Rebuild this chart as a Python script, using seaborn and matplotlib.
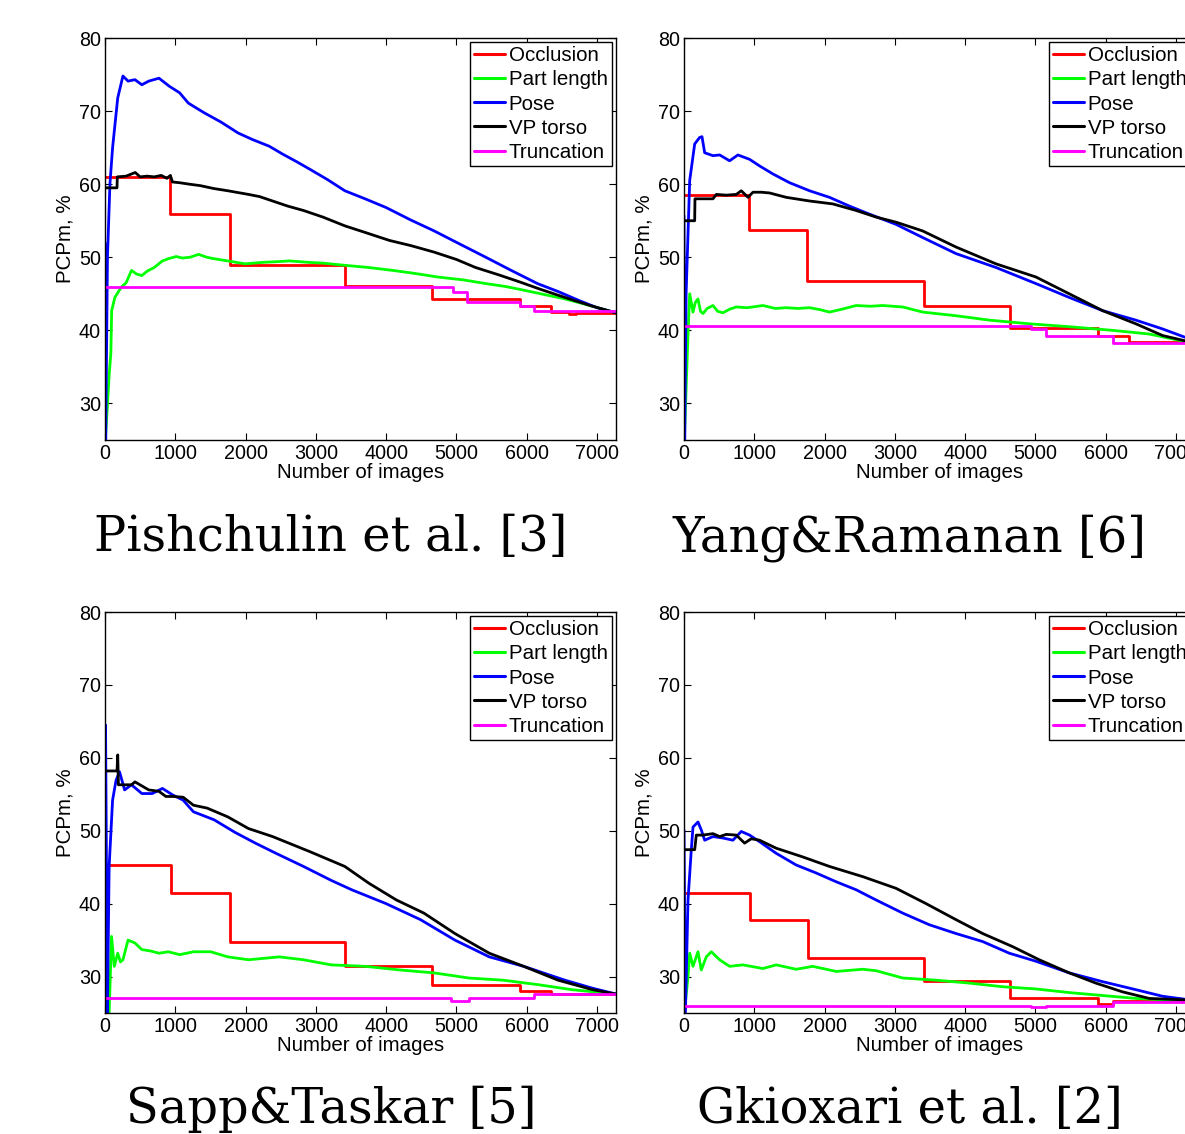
import numpy as np
import pandas as pd
import matplotlib
matplotlib.use("Agg")
import matplotlib.pyplot as plt
import seaborn as sns

# ---------------- data ----------------
series_names = ["Occlusion", "Part length", "Pose", "VP torso", "Truncation"]
series_colors = ["#ff0000", "#00ff00", "#0000ff", "#000000", "#ff00ff"]
titles = ["Pishchulin et al. [3]", "Yang&Ramanan [6]", "Sapp&Taskar [5]", "Gkioxari et al. [2]"]
x_ticks = [0, 1000, 2000, 3000, 4000, 5000, 6000, 7000]
y_ticks = [30, 40, 50, 60, 70, 80]

# Panel 1: Pishchulin et al.
p1_occ_edges = [0, 930, 1772, 3412, 4650, 5898, 6349, 6600, 6700, 7270]
p1_occ_vals = [61.0, 55.9, 49.0, 46.1, 44.3, 43.3, 42.5, 42.2, 42.4]
p1_trunc_edges = [0, 4953, 5149, 5908, 6104, 7270]
p1_trunc_vals = [45.9, 45.3, 43.9, 43.4, 42.6]
p1_pose_x = [0, 10, 35, 70, 108, 181, 255, 328, 426, 524, 622, 768, 915, 1062, 1185, 1405, 1650,
             1894, 2100, 2335, 2530, 2722, 2922, 3170, 3412, 3700, 4000, 4350, 4684, 5050, 5418,
             5780, 6153, 6450, 6740, 7000, 7270]
p1_pose_y = [52, 25, 50, 60, 65, 71.8, 74.8, 74.1, 74.3, 73.6, 74.1, 74.5, 73.4, 72.5, 71.1, 69.8, 68.5,
             67.0, 66.1, 65.2, 64.1, 63.1, 62.0, 60.6, 59.1, 58.0, 56.8, 55.1, 53.6, 51.8, 50.0,
             48.2, 46.4, 45.3, 44.1, 43.1, 42.4]
p1_vp_x = [0, 171, 175, 300, 430, 500, 600, 700, 800, 880, 930, 960, 1062, 1200, 1356, 1550, 1747,
           2041, 2200, 2384, 2600, 2824, 3100, 3412, 3700, 4048, 4350, 4684, 5000, 5272, 5600, 5908,
           6200, 6544, 6900, 7270]
p1_vp_y = [59.5, 59.5, 61.0, 61.1, 61.6, 61.0, 61.1, 61.0, 61.2, 60.8, 61.2, 60.3, 60.2, 60.0, 59.8,
           59.4, 59.1, 58.6, 58.3, 57.7, 57.0, 56.4, 55.5, 54.3, 53.4, 52.3, 51.6, 50.7, 49.7, 48.6,
           47.6, 46.6, 45.6, 44.5, 43.4, 42.4]
p1_pl_x = [5, 60, 83, 95, 140, 230, 300, 377, 450, 524, 600, 700, 817, 900, 1013, 1100, 1209, 1331,
           1450, 1552, 1747, 1992, 2240, 2450, 2628, 2900, 3100, 3412, 3750, 4097, 4400, 4733, 5100,
           5418, 5700, 5957, 6250, 6544, 6900, 7270]
p1_pl_y = [25, 34, 36.8, 42.7, 44.5, 45.9, 46.5, 48.2, 47.7, 47.5, 48.1, 48.6, 49.5, 49.8, 50.1, 49.9,
           50.0, 50.4, 50.0, 49.8, 49.5, 49.1, 49.3, 49.4, 49.5, 49.3, 49.2, 48.9, 48.6, 48.2, 47.8,
           47.3, 46.9, 46.4, 46.0, 45.5, 44.9, 44.3, 43.4, 42.4]

# Panel 2: Yang&Ramanan
p2_occ_edges = [0, 924, 1753, 3420, 4638, 5883, 6333, 7270]
p2_occ_vals = [58.5, 53.7, 46.8, 43.4, 40.3, 39.2, 38.4]
p2_trunc_edges = [0, 4936, 5150, 6097, 7270]
p2_trunc_vals = [40.6, 40.2, 39.2, 38.3]
p2_pose_x = [0, 10, 30, 81, 152, 223, 256, 294, 412, 507, 649, 767, 933, 1075, 1265, 1502, 1786,
             2070, 2354, 2639, 3017, 3396, 3870, 4439, 5007, 5481, 5955, 6428, 6807, 7115, 7270]
p2_pose_y = [55.7, 25, 45, 60.5, 65.5, 66.4, 66.5, 64.3, 63.9, 64.0, 63.2, 64.0, 63.4, 62.5, 61.4,
             60.2, 59.1, 58.2, 57.0, 55.9, 54.5, 52.7, 50.5, 48.6, 46.4, 44.5, 42.7, 41.4, 40.2,
             39.1, 38.6]
p2_vp_x = [0, 152, 156, 412, 460, 600, 744, 815, 910, 981, 1100, 1217, 1454, 1786, 2117, 2449, 2733,
           3017, 3396, 3870, 4439, 5007, 5481, 5955, 6428, 6807, 7115, 7270]
p2_vp_y = [55.0, 55.0, 58.0, 58.0, 58.6, 58.5, 58.6, 59.1, 58.2, 58.9, 58.9, 58.8, 58.2, 57.7, 57.3,
           56.4, 55.5, 54.8, 53.6, 51.4, 49.1, 47.3, 45.0, 42.7, 40.9, 39.3, 38.6, 38.4]
p2_pl_x = [5, 57, 81, 128, 160, 199, 235, 270, 330, 412, 480, 554, 650, 744, 900, 1123, 1300, 1454,
           1620, 1786, 1950, 2070, 2250, 2449, 2650, 2828, 3112, 3396, 3870, 4344, 4912, 5481, 6097,
           6618, 7115, 7270]
p2_pl_y = [25, 39.5, 45.0, 42.5, 43.8, 44.3, 42.6, 42.3, 43.0, 43.4, 42.6, 42.4, 42.9, 43.2, 43.1,
           43.4, 43.0, 43.1, 43.0, 43.1, 42.8, 42.5, 42.9, 43.4, 43.3, 43.4, 43.2, 42.5, 42.0, 41.4,
           40.9, 40.5, 40.0, 39.5, 38.5, 38.4]

# Panel 3: Sapp&Taskar
p3_occ_edges = [0, 940, 1772, 3412, 4650, 5898, 6349, 7270]
p3_occ_vals = [45.3, 41.4, 34.8, 31.4, 28.9, 28.0, 27.6]
p3_trunc_edges = [0, 4929, 5174, 6104, 7270]
p3_trunc_vals = [27.0, 26.7, 27.0, 27.6]
p3_pose_x = [0, 8, 34, 59, 108, 157, 206, 279, 377, 524, 671, 817, 964, 1111, 1258, 1552, 1845, 2139,
             2433, 2824, 3216, 3510, 3999, 4489, 4978, 5467, 5957, 6544, 6936, 7270]
p3_pose_y = [25, 64.5, 25, 45.1, 54.2, 56.9, 58.1, 55.6, 56.3, 55.1, 55.1, 55.8, 54.9, 54.2, 52.6,
             51.5, 49.8, 48.3, 46.9, 45.1, 43.2, 41.9, 40.0, 37.8, 35.0, 32.7, 31.4, 29.5, 28.4, 27.6]
p3_vp_x = [0, 171, 181, 191, 377, 426, 622, 768, 866, 964, 1111, 1258, 1454, 1747, 2041, 2384, 2922,
           3412, 3754, 4146, 4537, 4978, 5467, 5957, 6446, 6936, 7270]
p3_vp_y = [58.2, 58.2, 60.4, 56.3, 56.3, 56.7, 55.6, 55.4, 54.7, 54.7, 54.6, 53.5, 53.1, 51.9, 50.3,
           49.2, 47.1, 45.1, 42.8, 40.5, 38.7, 35.9, 33.2, 31.4, 29.5, 28.2, 27.6]
p3_pl_x = [5, 59, 93, 132, 181, 220, 255, 328, 426, 524, 650, 768, 900, 1062, 1258, 1503, 1747, 2041,
           2482, 2824, 3216, 3705, 4195, 4684, 5174, 5663, 6153, 6642, 7270]
p3_pl_y = [25, 25, 35.5, 31.4, 33.2, 32.0, 32.3, 35.0, 34.6, 33.7, 33.5, 33.2, 33.4, 33.0, 33.4, 33.4,
           32.7, 32.3, 32.7, 32.3, 31.6, 31.4, 30.9, 30.5, 29.8, 29.5, 28.9, 28.2, 27.6]

# Panel 4: Gkioxari et al.
p4_occ_edges = [0, 933, 1762, 3420, 4638, 5883, 6100, 7270]
p4_occ_vals = [41.4, 37.8, 32.6, 29.4, 27.1, 26.3, 26.6]
p4_trunc_edges = [0, 4936, 5150, 6097, 7270]
p4_trunc_vals = [26.0, 25.8, 26.0, 26.5]
p4_pose_x = [0, 20, 57, 104, 128, 199, 246, 294, 412, 554, 696, 815, 933, 1075, 1312, 1596, 1881,
             2165, 2449, 2733, 3112, 3491, 3870, 4249, 4628, 5007, 5481, 5955, 6428, 6807, 7270]
p4_pose_y = [50.1, 25, 40.5, 47.4, 50.5, 51.2, 50.1, 48.7, 49.2, 49.0, 48.7, 49.9, 49.4, 48.5, 46.9,
             45.3, 44.2, 43.0, 41.9, 40.5, 38.7, 37.1, 35.9, 34.8, 33.2, 32.1, 30.5, 29.3, 28.2,
             27.3, 26.7]
p4_vp_x = [0, 152, 175, 270, 412, 507, 602, 744, 862, 957, 1075, 1312, 1691, 2070, 2544, 3017, 3444,
           3870, 4249, 4676, 5054, 5481, 5860, 6239, 6618, 7115, 7270]
p4_vp_y = [47.4, 47.4, 49.4, 49.4, 49.6, 49.2, 49.5, 49.4, 48.3, 48.9, 48.7, 47.6, 46.4, 45.1, 43.7,
           42.1, 40.0, 37.8, 35.9, 34.1, 32.3, 30.5, 29.1, 27.9, 27.0, 26.8, 26.7]
p4_pl_x = [5, 57, 81, 128, 199, 246, 317, 388, 507, 649, 838, 1123, 1312, 1596, 1833, 2165, 2544, 2733,
           3112, 3586, 4060, 4533, 5007, 5481, 5955, 6428, 7270]
p4_pl_y = [25, 30.0, 33.2, 31.4, 33.4, 30.9, 32.7, 33.4, 32.3, 31.4, 31.6, 31.1, 31.6, 31.0, 31.4, 30.7,
           31.0, 30.8, 29.8, 29.5, 29.1, 28.6, 28.3, 27.8, 27.4, 27.0, 26.6]

panels = [
    (p1_occ_edges, p1_occ_vals, p1_pl_x, p1_pl_y, p1_pose_x, p1_pose_y, p1_vp_x, p1_vp_y, p1_trunc_edges, p1_trunc_vals),
    (p2_occ_edges, p2_occ_vals, p2_pl_x, p2_pl_y, p2_pose_x, p2_pose_y, p2_vp_x, p2_vp_y, p2_trunc_edges, p2_trunc_vals),
    (p3_occ_edges, p3_occ_vals, p3_pl_x, p3_pl_y, p3_pose_x, p3_pose_y, p3_vp_x, p3_vp_y, p3_trunc_edges, p3_trunc_vals),
    (p4_occ_edges, p4_occ_vals, p4_pl_x, p4_pl_y, p4_pose_x, p4_pose_y, p4_vp_x, p4_vp_y, p4_trunc_edges, p4_trunc_vals),
]


def steps(edges, vals):
    xs, ys = [], []
    for i, v in enumerate(vals):
        xs += [edges[i], edges[i + 1]]
        ys += [v, v]
    return xs, ys


# ---------------- style ----------------
sns.set_theme(style="white")
plt.rcParams["font.family"] = ["Liberation Sans", "DejaVu Sans"]
plt.rcParams.update({
    "xtick.direction": "in", "ytick.direction": "in",
    "xtick.top": True, "ytick.right": True,
    "xtick.bottom": True, "ytick.left": True,
    "xtick.major.size": 5, "ytick.major.size": 5,
    "xtick.major.width": 0.8, "ytick.major.width": 0.8,
    "xtick.color": "black", "ytick.color": "black",
    "xtick.labelcolor": "black", "ytick.labelcolor": "black",
    "text.color": "black", "axes.labelcolor": "black",
    "axes.edgecolor": "black", "axes.linewidth": 1.0,
})

W, H = 1185, 1134
fig = plt.figure(figsize=(W / 100, H / 100), dpi=100)

ax_boxes = [  # left, top, right, bottom in pixels
    (105, 38, 616, 440),
    (684, 38, 1195, 440),
    (105, 612, 616, 1013),
    (684, 612, 1195, 1013),
]
title_pos = [(331, 551), (910, 551), (331, 1123), (910, 1123)]

palette = dict(zip(series_names, series_colors))

for k, (box, pdata) in enumerate(zip(ax_boxes, panels)):
    l, t, r, b = box
    ax = fig.add_axes([l / W, 1 - b / H, (r - l) / W, (b - t) / H])
    occ_e, occ_v, pl_x, pl_y, po_x, po_y, vp_x, vp_y, tr_e, tr_v = pdata
    ox, oy = steps(occ_e, occ_v)
    tx, ty = steps(tr_e, tr_v)
    frames = []
    for name, xs, ys in [("Occlusion", ox, oy), ("Part length", pl_x, pl_y),
                         ("Pose", po_x, po_y), ("VP torso", vp_x, vp_y),
                         ("Truncation", tx, ty)]:
        frames.append(pd.DataFrame({"x": xs, "y": ys, "attr": name}))
    df = pd.concat(frames, ignore_index=True)
    sns.lineplot(data=df, x="x", y="y", hue="attr", hue_order=series_names,
                 palette=palette, estimator=None, sort=False, units="attr",
                 linewidth=2.0, ax=ax, legend=True)
    ax.set_xlim(0, 7270)
    ax.set_ylim(25, 80)
    ax.set_xticks(x_ticks)
    ax.set_yticks(y_ticks)
    ax.tick_params(labelsize=14.2, pad=3)
    ax.set_xlabel("Number of images", fontsize=14.8, labelpad=0)
    ax.set_ylabel("PCPm, %", fontsize=14.8, labelpad=3)
    handles, labels = ax.get_legend_handles_labels()
    leg = ax.legend(handles, labels, loc="upper right", fontsize=14.8, frameon=True,
                    fancybox=False, edgecolor="black", framealpha=1,
                    borderaxespad=0.2, handlelength=1.5, handletextpad=0.2,
                    labelspacing=0.25, borderpad=0.2)
    leg.get_frame().set_linewidth(1.0)
    for ln in leg.get_lines():
        ln.set_linewidth(2.2)
    cx, cy = title_pos[k]
    fig.text(cx / W, 1 - cy / H, titles[k], ha="center", va="baseline",
             fontsize=34.5, family=["DejaVu Serif"], color="black")

fig.savefig("out.png", dpi=100)
